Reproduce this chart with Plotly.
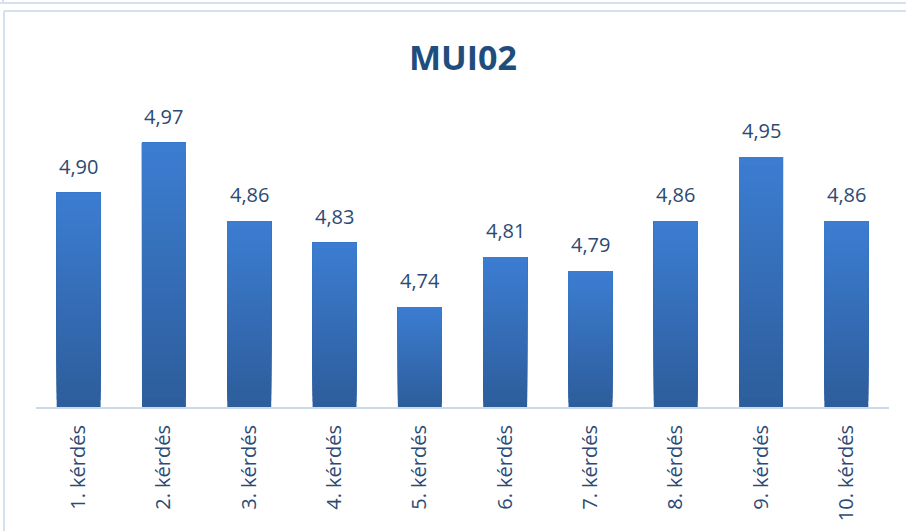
import plotly.graph_objects as go

categories = ["1. kérdés", "2. kérdés", "3. kérdés", "4. kérdés", "5. kérdés",
              "6. kérdés", "7. kérdés", "8. kérdés", "9. kérdés", "10. kérdés"]
values = [4.90, 4.97, 4.86, 4.83, 4.74, 4.81, 4.79, 4.86, 4.95, 4.86]
title_text = "MUI02"
axis_base = 4.6

W, H = 906, 531
ML, MR, MT, MB = 36, 17, 50, 124
PW, PH = W - ML - MR, H - MT - MB

def px(x):
    return (x - ML) / PW

def py(y):
    return (H - MB - y) / PH

def lerp_color(c0, c1, t):
    a = [int(c0[i:i + 2], 16) for i in (1, 3, 5)]
    b = [int(c1[i:i + 2], 16) for i in (1, 3, 5)]
    return "rgb(%d,%d,%d)" % tuple(round(a[k] + (b[k] - a[k]) * t) for k in range(3))

bottom_col, top_col = "#2d5d9b", "#3c7dd2"
N = 30
fig = go.Figure()
for j in range(N):
    bases = [axis_base + (v - axis_base) * j / N for v in values]
    heights = [v - b for v, b in zip(values, bases)]
    fig.add_trace(go.Bar(
        x=categories, y=heights, base=bases,
        marker=dict(color=lerp_color(bottom_col, top_col, (j + 0.5) / N), line=dict(width=0)),
        customdata=values, hovertemplate="%{x}: %{customdata:.2f}<extra></extra>",
    ))

annotations = []
for c, v in zip(categories, values):
    annotations.append(dict(
        x=c, y=v, xref="x", yref="y",
        text=f"{v:.2f}".replace(".", ","),
        showarrow=False, yanchor="bottom", yshift=11,
        font=dict(family="Open Sans", size=20, color="#2c4a73"),
    ))
annotations.append(dict(
    x=0.5, y=py(57), xref="paper", yref="paper", text=f"<b>{title_text}</b>",
    showarrow=False, yanchor="middle",
    font=dict(family="Open Sans", size=34, color="#1f4e7d"),
))

border = "#d5e1f1"
shapes = [
    dict(type="line", xref="paper", yref="paper", x0=px(4), x1=px(W + 5), y0=py(11), y1=py(11),
         line=dict(color=border, width=2)),
    dict(type="line", xref="paper", yref="paper", x0=px(4), x1=px(4), y0=py(11), y1=py(H + 5),
         line=dict(color=border, width=2)),
    dict(type="line", xref="paper", yref="paper", x0=px(0), x1=px(W + 5), y0=py(3), y1=py(3),
         line=dict(color=border, width=2)),
    dict(type="line", xref="paper", yref="paper", x0=px(3), x1=px(3), y0=py(-5), y1=py(3),
         line=dict(color=border, width=2)),
]

fig.update_layout(
    template="none",
    width=W, height=H,
    margin=dict(l=ML, r=MR, t=MT, b=MB, autoexpand=False),
    paper_bgcolor="white", plot_bgcolor="white",
    barmode="overlay",
    bargap=0.485,
    showlegend=False,
    separators=",.",
    annotations=annotations,
    shapes=shapes,
    xaxis=dict(
        automargin=False,
        showline=True, linecolor="#ccd9eb", linewidth=2,
        showgrid=False, zeroline=False, ticks="",
        tickangle=-90, ticklabelstandoff=8,
        tickfont=dict(family="Open Sans", size=20, color="#2c4a73"),
    ),
    yaxis=dict(
        automargin=False,
        range=[4.6, 5.1], visible=False, showgrid=False, zeroline=False,
    ),
)

fig.write_html("out.html", config={"displayModeBar": False},
               post_script="document.body.style.margin='0';")
